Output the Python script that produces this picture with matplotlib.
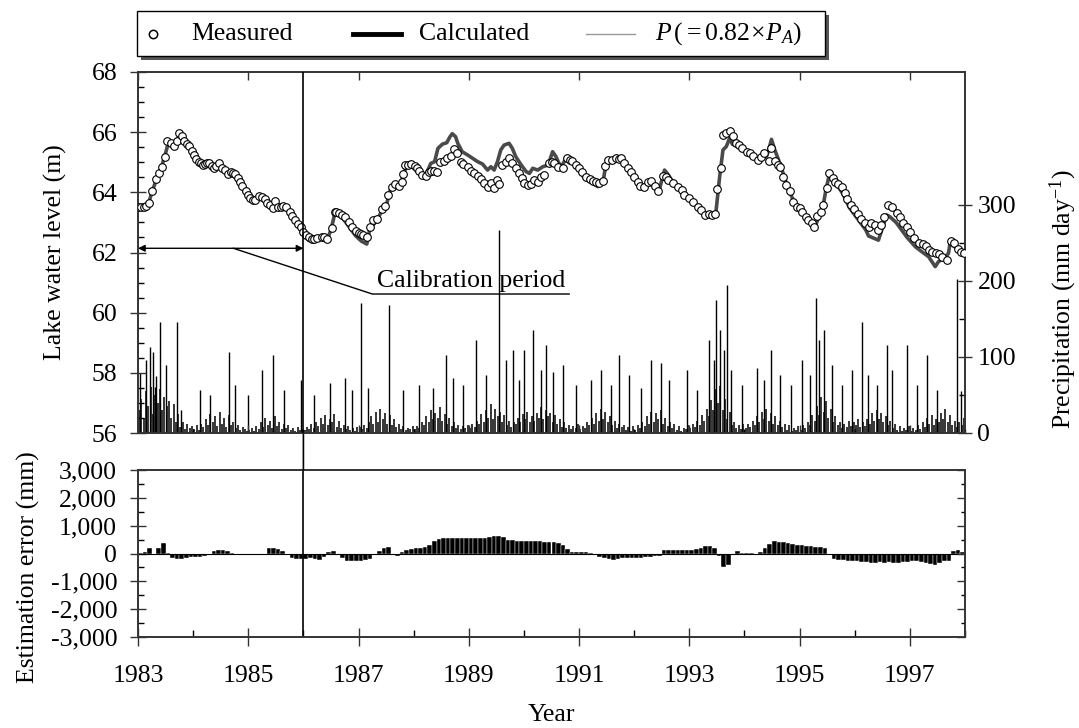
import numpy as np
import matplotlib
matplotlib.use("Agg")
import matplotlib.pyplot as plt
from matplotlib.lines import Line2D
from matplotlib.patches import ConnectionPatch, Rectangle
from matplotlib.ticker import FixedLocator, MultipleLocator, FuncFormatter

plt.rcParams['font.family'] = ['Liberation Serif', 'DejaVu Serif']
plt.rcParams['mathtext.fontset'] = 'custom'
plt.rcParams['mathtext.rm'] = 'Liberation Serif'
plt.rcParams['mathtext.it'] = 'Liberation Serif:italic'
plt.rcParams['font.size'] = 18.5

# gemessener Seespiegel (Jahr, m)
meas_t = [1983.00, 1983.05, 1983.10, 1983.15, 1983.20, 1983.25, 1983.32, 1983.38, 1983.43, 1983.49,
          1983.53, 1983.60, 1983.66, 1983.71, 1983.75, 1983.80, 1983.84, 1983.88, 1983.92, 1983.98,
          1984.02, 1984.06, 1984.11, 1984.14, 1984.18, 1984.22, 1984.25, 1984.29, 1984.34, 1984.38,
          1984.42, 1984.47, 1984.52, 1984.58, 1984.63, 1984.68, 1984.72, 1984.76, 1984.81, 1984.85,
          1984.88, 1984.95, 1985.00, 1985.04, 1985.08, 1985.13, 1985.19, 1985.25, 1985.30, 1985.34,
          1985.40, 1985.45, 1985.49, 1985.54, 1985.59, 1985.63, 1985.68, 1985.75, 1985.80, 1985.85,
          1985.90, 1985.95, 1986.00, 1986.05, 1986.10, 1986.15, 1986.19, 1986.25, 1986.33, 1986.38,
          1986.43, 1986.51, 1986.57, 1986.60, 1986.65, 1986.70, 1986.75, 1986.82, 1986.88, 1986.95,
          1987.00, 1987.05, 1987.09, 1987.16, 1987.20, 1987.27, 1987.34, 1987.42, 1987.48, 1987.54,
          1987.60, 1987.67, 1987.73, 1987.78, 1987.81, 1987.85, 1987.90, 1987.95, 1988.02, 1988.06,
          1988.10, 1988.16, 1988.22, 1988.28, 1988.32, 1988.36, 1988.42, 1988.48, 1988.55, 1988.61,
          1988.67, 1988.73, 1988.79, 1988.85, 1988.90, 1988.98, 1989.04, 1989.10, 1989.16, 1989.22,
          1989.28, 1989.34, 1989.40, 1989.45, 1989.52, 1989.55, 1989.61, 1989.67, 1989.73, 1989.79,
          1989.85, 1989.91, 1989.97, 1990.01, 1990.07, 1990.13, 1990.19, 1990.25, 1990.31, 1990.37,
          1990.46, 1990.50, 1990.54, 1990.61, 1990.70, 1990.78, 1990.83, 1990.88, 1990.94, 1991.00,
          1991.06, 1991.13, 1991.19, 1991.25, 1991.31, 1991.37, 1991.43, 1991.47, 1991.53, 1991.59,
          1991.67, 1991.72, 1991.76, 1991.82, 1991.88, 1991.94, 1992.00, 1992.06, 1992.11, 1992.18,
          1992.25, 1992.31, 1992.38, 1992.44, 1992.52, 1992.57, 1992.62, 1992.70, 1992.79, 1992.86,
          1992.91, 1992.99, 1993.07, 1993.15, 1993.21, 1993.29, 1993.35, 1993.41, 1993.46, 1993.51,
          1993.57, 1993.61, 1993.67, 1993.73, 1993.79, 1993.84, 1993.90, 1993.96, 1994.04, 1994.10,
          1994.16, 1994.24, 1994.30, 1994.36, 1994.44, 1994.49, 1994.55, 1994.61, 1994.65, 1994.70,
          1994.76, 1994.82, 1994.88, 1994.95, 1995.00, 1995.05, 1995.11, 1995.16, 1995.22, 1995.26,
          1995.31, 1995.39, 1995.43, 1995.49, 1995.54, 1995.61, 1995.65, 1995.70, 1995.76, 1995.82,
          1995.86, 1995.93, 1995.99, 1996.06, 1996.12, 1996.19, 1996.25, 1996.30, 1996.37, 1996.42,
          1996.47, 1996.53, 1996.61, 1996.68, 1996.76, 1996.82, 1996.88, 1996.94, 1997.00, 1997.07,
          1997.16, 1997.23, 1997.29, 1997.35, 1997.41, 1997.47, 1997.53, 1997.59, 1997.68, 1997.74,
          1997.80, 1997.87, 1997.93, 1997.99]
meas_level = [63.50, 63.50, 63.52, 63.55, 63.63, 64.05, 64.43, 64.63, 64.83, 65.19,
              65.72, 65.63, 65.54, 65.72, 65.98, 65.87, 65.72, 65.62, 65.54, 65.39,
              65.24, 65.10, 65.02, 64.96, 64.90, 64.93, 64.96, 64.99, 64.88, 64.80,
              64.86, 64.96, 64.82, 64.74, 64.60, 64.68, 64.65, 64.60, 64.47, 64.33,
              64.21, 64.06, 63.90, 63.80, 63.75, 63.75, 63.88, 63.86, 63.77, 63.63,
              63.57, 63.47, 63.70, 63.52, 63.52, 63.54, 63.50, 63.36, 63.21, 63.08,
              62.95, 62.84, 62.69, 62.58, 62.50, 62.46, 62.44, 62.47, 62.53, 62.50,
              62.44, 62.80, 63.36, 63.36, 63.30, 63.25, 63.17, 63.02, 62.86, 62.73,
              62.66, 62.62, 62.58, 62.53, 62.86, 63.08, 63.10, 63.43, 63.54, 63.91,
              64.19, 64.28, 64.21, 64.35, 64.61, 64.90, 64.92, 64.93, 64.86, 64.80,
              64.71, 64.58, 64.55, 64.69, 64.72, 64.71, 64.69, 65.02, 65.05, 65.13,
              65.20, 65.43, 65.32, 65.02, 64.94, 64.83, 64.72, 64.63, 64.55, 64.43,
              64.32, 64.19, 64.30, 64.15, 64.40, 64.28, 64.91, 65.02, 65.13, 64.98,
              64.80, 64.63, 64.47, 64.32, 64.25, 64.28, 64.41, 64.35, 64.50, 64.58,
              64.99, 65.00, 64.99, 64.83, 64.80, 65.13, 65.08, 65.05, 64.91, 64.80,
              64.66, 64.50, 64.43, 64.39, 64.35, 64.30, 64.39, 64.88, 65.08, 65.08,
              65.13, 65.10, 65.13, 64.97, 64.80, 64.66, 64.50, 64.35, 64.21, 64.17,
              64.35, 64.39, 64.21, 64.06, 64.55, 64.50, 64.41, 64.30, 64.19, 64.08,
              63.90, 63.80, 63.69, 63.52, 63.41, 63.25, 63.28, 63.25, 63.28, 64.11,
              64.80, 65.90, 65.98, 66.05, 65.86, 65.63, 65.58, 65.46, 65.35, 65.30,
              65.22, 65.07, 65.16, 65.30, 65.03, 65.46, 65.03, 64.91, 64.83, 64.50,
              64.24, 64.06, 63.69, 63.52, 63.47, 63.36, 63.17, 63.08, 62.99, 62.86,
              63.21, 63.36, 63.58, 64.13, 64.65, 64.46, 64.35, 64.28, 64.17, 63.97,
              63.77, 63.58, 63.43, 63.28, 63.13, 62.99, 62.86, 62.97, 62.93, 62.75,
              62.93, 63.19, 63.58, 63.52, 63.30, 63.17, 62.97, 62.84, 62.69, 62.47,
              62.33, 62.28, 62.22, 62.08, 62.03, 61.97, 61.95, 61.86, 61.75, 62.39,
              62.33, 62.10, 62.03, 62.00]

# berechneter Seespiegel (Jahr, m)
calc_t = [1983.00, 1983.10, 1983.18, 1983.25, 1983.33, 1983.42, 1983.50, 1983.55, 1983.62, 1983.68,
          1983.75, 1983.82, 1983.90, 1984.00, 1984.10, 1984.20, 1984.30, 1984.40, 1984.50, 1984.60,
          1984.70, 1984.80, 1984.90, 1985.00, 1985.08, 1985.18, 1985.25, 1985.35, 1985.45, 1985.50,
          1985.60, 1985.70, 1985.80, 1985.90, 1986.00, 1986.10, 1986.20, 1986.30, 1986.42, 1986.50,
          1986.57, 1986.65, 1986.75, 1986.85, 1986.95, 1987.05, 1987.15, 1987.20, 1987.30, 1987.40,
          1987.50, 1987.58, 1987.68, 1987.75, 1987.82, 1987.88, 1987.95, 1988.05, 1988.15, 1988.22,
          1988.31, 1988.38, 1988.44, 1988.52, 1988.60, 1988.66, 1988.70, 1988.76, 1988.80, 1988.88,
          1988.98, 1989.07, 1989.16, 1989.25, 1989.34, 1989.40, 1989.46, 1989.52, 1989.58, 1989.64,
          1989.73, 1989.79, 1989.85, 1989.95, 1990.04, 1990.10, 1990.16, 1990.25, 1990.34, 1990.44,
          1990.52, 1990.58, 1990.64, 1990.70, 1990.76, 1990.85, 1990.94, 1991.00, 1991.10, 1991.20,
          1991.34, 1991.43, 1991.48, 1991.55, 1991.65, 1991.75, 1991.85, 1991.95, 1992.05, 1992.15,
          1992.25, 1992.35, 1992.44, 1992.50, 1992.55, 1992.60, 1992.70, 1992.80, 1992.90, 1993.00,
          1993.10, 1993.20, 1993.30, 1993.40, 1993.48, 1993.55, 1993.61, 1993.67, 1993.73, 1993.78,
          1993.85, 1993.95, 1994.05, 1994.15, 1994.25, 1994.32, 1994.40, 1994.44, 1994.49, 1994.55,
          1994.62, 1994.70, 1994.80, 1994.90, 1995.00, 1995.10, 1995.16, 1995.28, 1995.35, 1995.42,
          1995.48, 1995.54, 1995.62, 1995.70, 1995.80, 1995.90, 1996.00, 1996.10, 1996.20, 1996.25,
          1996.35, 1996.43, 1996.50, 1996.58, 1996.63, 1996.75, 1996.85, 1996.95, 1997.10, 1997.20,
          1997.34, 1997.46, 1997.52, 1997.62, 1997.70, 1997.73, 1997.80, 1997.90, 1998.00]
calc_level = [63.45, 63.45, 63.55, 64.00, 64.40, 64.80, 65.30, 65.65, 65.55, 65.60,
              65.90, 65.85, 65.55, 65.30, 65.00, 64.88, 64.95, 64.80, 64.85, 64.68,
              64.60, 64.42, 64.10, 63.85, 63.70, 63.82, 63.78, 63.60, 63.50, 63.65,
              63.45, 63.42, 63.15, 62.90, 62.60, 62.40, 62.35, 62.45, 62.38, 62.75,
              63.30, 63.30, 63.05, 62.80, 62.55, 62.38, 62.28, 62.75, 63.00, 63.30,
              63.55, 64.10, 64.25, 64.20, 64.60, 64.95, 65.00, 64.85, 64.62, 64.58,
              64.96, 65.02, 65.46, 65.60, 65.65, 65.85, 65.95, 65.85, 65.63, 65.35,
              65.24, 65.13, 65.02, 64.94, 64.74, 64.85, 64.74, 65.02, 65.41, 65.57,
              65.63, 65.46, 65.19, 64.91, 64.69, 64.63, 64.80, 64.74, 64.85, 64.91,
              65.35, 65.19, 64.94, 64.91, 65.13, 65.13, 64.97, 64.75, 64.45, 64.35,
              64.19, 64.30, 64.85, 65.00, 65.05, 65.10, 64.85, 64.60, 64.30, 64.15,
              64.30, 64.20, 63.97, 64.40, 64.74, 64.63, 64.35, 64.15, 63.90, 63.75,
              63.60, 63.40, 63.25, 63.20, 63.30, 64.52, 65.41, 65.52, 65.80, 65.60,
              65.55, 65.42, 65.30, 65.18, 65.05, 65.10, 65.20, 65.41, 65.76, 65.41,
              65.07, 64.64, 64.08, 63.69, 63.45, 63.20, 63.05, 62.85, 63.20, 63.50,
              64.10, 64.60, 64.35, 64.20, 63.90, 63.50, 63.25, 63.00, 62.75, 62.55,
              62.47, 62.41, 62.80, 63.25, 63.20, 63.00, 62.75, 62.50, 62.19, 62.05,
              61.86, 61.53, 61.70, 61.80, 61.97, 62.32, 62.21, 62.05, 62.00]

# Niederschlag: halbmonatliche Grundwerte je Jahr (mm/Tag)
rain_base = [
    [30, 45, 20, 55, 35, 60, 25, 50, 40, 58, 30, 48, 35, 42, 20, 38, 15, 25, 8, 14, 5, 12, 6, 9],
    [5, 10, 4, 12, 8, 18, 10, 25, 14, 22, 9, 28, 12, 20, 8, 24, 10, 15, 6, 10, 4, 8, 5, 3],
    [4, 7, 3, 9, 5, 14, 8, 20, 10, 16, 6, 22, 9, 15, 5, 12, 7, 10, 4, 6, 3, 8, 4, 5],
    [4, 8, 5, 12, 7, 15, 9, 20, 12, 24, 10, 18, 14, 25, 8, 16, 6, 10, 5, 9, 4, 7, 3, 8],
    [8, 5, 10, 6, 14, 22, 12, 28, 15, 32, 18, 26, 12, 24, 10, 18, 8, 12, 5, 9, 4, 7, 5, 9],
    [5, 9, 6, 14, 10, 22, 14, 30, 18, 26, 20, 34, 16, 25, 12, 20, 9, 14, 6, 11, 5, 9, 7, 10],
    [6, 12, 8, 16, 12, 25, 15, 30, 20, 38, 18, 32, 22, 28, 14, 24, 10, 16, 8, 14, 12, 20, 15, 25],
    [18, 28, 14, 22, 16, 26, 20, 34, 18, 30, 22, 26, 15, 24, 12, 18, 8, 14, 6, 11, 5, 9, 6, 12],
    [5, 9, 6, 14, 10, 20, 12, 26, 16, 32, 18, 28, 14, 22, 10, 16, 7, 12, 8, 10, 4, 8, 3, 9],
    [4, 10, 6, 14, 9, 22, 12, 28, 14, 26, 18, 30, 12, 20, 9, 14, 6, 12, 4, 9, 3, 7, 5, 10],
    [6, 12, 8, 16, 10, 24, 16, 32, 22, 44, 30, 58, 40, 62, 30, 45, 18, 28, 10, 15, 6, 10, 5, 12],
    [6, 12, 8, 16, 10, 22, 14, 28, 18, 32, 16, 26, 12, 22, 10, 16, 8, 12, 4, 10, 3, 7, 4, 9],
    [4, 10, 6, 14, 10, 24, 16, 36, 24, 48, 28, 42, 20, 32, 14, 22, 10, 14, 6, 12, 8, 16, 9, 14],
    [10, 18, 8, 14, 9, 18, 12, 26, 16, 30, 18, 26, 14, 22, 10, 16, 7, 12, 4, 9, 3, 7, 4, 9],
    [3, 7, 4, 10, 5, 14, 8, 20, 12, 24, 10, 18, 14, 26, 18, 32, 15, 24, 10, 16, 8, 14, 10, 20],
]

# einzelne Starkregen-Tage (Jahr, mm/Tag)
storm_t = [1983.04, 1983.15, 1983.22, 1983.27, 1983.30, 1983.33, 1983.40, 1983.51, 1983.71, 1983.78,
           1984.13, 1984.31, 1984.65, 1984.76, 1985.00, 1985.25, 1985.44, 1985.65, 1985.95, 1986.20,
           1986.49, 1986.76, 1986.89, 1987.04, 1987.18, 1987.55, 1987.80, 1988.09, 1988.35, 1988.58,
           1988.71, 1988.89, 1989.13, 1989.31, 1989.55, 1989.67, 1989.80, 1989.91, 1990.00, 1990.16,
           1990.31, 1990.40, 1990.53, 1990.71, 1990.95, 1991.22, 1991.40, 1991.58, 1991.73, 1991.91,
           1992.13, 1992.31, 1992.49, 1992.64, 1992.95, 1993.13, 1993.35, 1993.44, 1993.49, 1993.55,
           1993.62, 1993.69, 1993.76, 1993.95, 1994.22, 1994.35, 1994.49, 1994.64, 1994.85, 1995.04,
           1995.18, 1995.29, 1995.36, 1995.44, 1995.58, 1995.76, 1995.95, 1996.13, 1996.24, 1996.40,
           1996.58, 1996.67, 1996.95, 1997.13, 1997.31, 1997.49, 1997.85, 1997.92]
storm_mm = [79, 96, 113, 107, 60, 75, 146, 90, 146, 30,
            57, 50, 107, 63, 50, 83, 103, 57, 70, 50,
            66, 72, 57, 171, 59, 168, 57, 63, 59, 103,
            72, 63, 122, 76, 267, 96, 109, 70, 109, 135,
            83, 116, 80, 89, 63, 70, 83, 63, 103, 76,
            59, 96, 92, 70, 83, 57, 122, 96, 175, 135,
            109, 195, 83, 63, 86, 70, 109, 76, 63, 96,
            76, 178, 122, 135, 89, 63, 83, 146, 76, 63,
            116, 83, 116, 63, 103, 57, 203, 55]

# Schätzfehler, Monatswerte (mm)
err_mm = [
    30, 50, 180, -40, 180, 380, 20, -150, -210, -190, -150, -140,
    -130, -110, -100, -60, 95, 120, 130, 100, 20, -50, -50, -55,
    -60, -60, -40, -20, 190, 215, 170, 100, -60, -170, -190, -205,
    -200, -170, -200, -230, -110, 60, 75, -30, -170, -265, -270, -270,
    -265, -250, -200, -40, 80, 180, 240, -30, -100, 60, 130, 170,
    190, 200, 230, 300, 440, 510, 570, 560, 545, 545, 550, 550,
    550, 555, 560, 570, 600, 630, 625, 600, 500, 470, 460, 455,
    455, 455, 455, 440, 425, 410, 400, 360, 290, 160, 50, 60,
    70, 50, 35, -60, -110, -145, -200, -240, -200, -150, -145, -145,
    -145, -145, -140, -125, -100, -85, 120, 120, 120, 120, 120, 120,
    125, 170, 215, 260, 270, 180, -100, -500, -420, -50, 80, 35,
    30, 10, 0, 60, 190, 330, 450, 430, 405, 360, 330, 300,
    290, 270, 260, 240, 220, 200, -10, -180, -245, -250, -260, -265,
    -280, -295, -310, -325, -325, -320, -325, -320, -325, -325, -320, -310,
    -280, -270, -290, -340, -380, -410, -330, -265, -260, 100, 120, 40,
]

year_start = 1983
year_end = 1998
calib_end = 1986

base_t = year_start + (np.arange(24 * len(rain_base)) + 0.5) / 24
base_mm = np.concatenate(rain_base)
err_t = year_start + (np.arange(len(err_mm)) + 0.5) / 12

spine_col = '#333333'
W, H = 1079, 728


def fx(px):
    return px / W


def fy(py):
    return 1 - py / H


fig = plt.figure(figsize=(W / 100, H / 100), dpi=100)
ax1 = fig.add_axes([fx(138), fy(433), fx(965) - fx(138), fy(72) - fy(433)])
ax2 = ax1.twinx()
ax3 = fig.add_axes([fx(138), fy(637), fx(965) - fx(138), fy(470) - fy(637)])
ax3r = ax3.twinx()

# Niederschlag (rechte Achse)
ax2.vlines(base_t, 0, base_mm, color='black', lw=1.1)
ax2.vlines(storm_t, 0, storm_mm, color='black', lw=1.0)
ax2.set_ylim(0, 475)
ax2.yaxis.set_major_locator(FixedLocator([0, 100, 200, 300]))
ax2.yaxis.set_minor_locator(FixedLocator([50, 150, 250]))
ax2.tick_params(axis='y', which='major', direction='inout', length=10, width=1, pad=4)
ax2.tick_params(axis='y', which='minor', direction='in', length=4, width=1)
ax2.set_ylabel('Precipitation (mm day$^{-1}$)')
ax2.yaxis.set_label_coords(1.100, 0.37)

# Seespiegel (linke Achse)
ax1.set_zorder(ax2.get_zorder() + 1)
ax1.patch.set_visible(False)
ax1.plot(calc_t, calc_level, color='#4a4a4a', lw=2.6, zorder=3)
ax1.plot(meas_t, meas_level, 'o', ms=5.5, mfc='white', mec='black', mew=0.8, zorder=4)
ax1.set_xlim(year_start, year_end)
ax1.set_ylim(56, 68)
ax1.yaxis.set_major_locator(MultipleLocator(2))
ax1.yaxis.set_minor_locator(MultipleLocator(0.5))
ax1.tick_params(axis='y', which='major', direction='inout', length=12, width=1, pad=9)
ax1.tick_params(axis='y', which='minor', direction='in', length=4, width=1)
ax1.xaxis.set_major_locator(FixedLocator(np.arange(year_start, year_end, 2)))
ax1.xaxis.set_minor_locator(FixedLocator(np.arange(year_start, year_end + 1)))
ax1.tick_params(axis='x', which='both', direction='in', top=True, bottom=True, labelbottom=False)
ax1.tick_params(axis='x', which='major', length=6, width=1)
ax1.tick_params(axis='x', which='minor', length=3, width=1, top=False)
ax1.set_ylabel('Lake water level (m)')
ax1.yaxis.set_label_coords(-0.086, 0.5)

# Kalibrierungszeitraum
ax1.axvline(calib_end, color='black', lw=1.2, zorder=5)
ax1.annotate('', xy=(year_start, 62.14), xytext=(calib_end, 62.14),
             arrowprops=dict(arrowstyle='<|-|>', lw=1, color='black', shrinkA=0, shrinkB=0,
                             mutation_scale=10))
ax1.plot([1984.73, 1987.25, 1990.82], [62.14, 60.62, 60.62], color='black', lw=1)
ax1.text(1989.05, 60.68, 'Calibration period', ha='center', va='bottom')

# Schätzfehler
ax3.bar(err_t, err_mm, width=1 / 12, color='black', edgecolor='white', linewidth=0.3)
ax3.axhline(0, color='black', lw=0.8)
ax3.axvline(calib_end, color='black', lw=1.2)
ax3.set_xlim(year_start, year_end)
ax3.set_ylim(-3000, 3000)
ax3.yaxis.set_major_locator(MultipleLocator(1000))
ax3.yaxis.set_minor_locator(MultipleLocator(500))
ax3.yaxis.set_major_formatter(FuncFormatter(lambda v, p: f"{v:,.0f}"))
ax3.tick_params(axis='y', which='major', direction='inout', length=12, width=1, pad=9)
ax3.tick_params(axis='y', which='minor', direction='in', length=4, width=1)
ax3.xaxis.set_major_locator(FixedLocator(np.arange(year_start, year_end, 2)))
ax3.xaxis.set_minor_locator(FixedLocator(np.arange(year_start, year_end + 1)))
ax3.xaxis.set_major_formatter(FuncFormatter(lambda v, p: f"{int(round(v))}"))
ax3.tick_params(axis='x', which='major', direction='inout', length=13, width=1, pad=14)
ax3.tick_params(axis='x', which='minor', direction='in', length=5, width=1)
ax3.set_xlabel('Year', labelpad=12)
ax3.set_ylabel('Estimation error (mm)')
ax3.yaxis.set_label_coords(-0.1185, 0.42)

ax3r.set_ylim(-3000, 3000)
ax3r.yaxis.set_major_locator(MultipleLocator(1000))
ax3r.yaxis.set_minor_locator(MultipleLocator(500))
ax3r.tick_params(axis='y', which='major', direction='in', length=6, width=1, labelright=False)
ax3r.tick_params(axis='y', which='minor', direction='in', length=3, width=1)

# Verbindungslinie zwischen den Panels
con = ConnectionPatch(xyA=(calib_end, 56), coordsA=ax1.transData,
                      xyB=(calib_end, 3000), coordsB=ax3.transData,
                      color='black', lw=1.2)
fig.add_artist(con)

for ax in (ax1, ax2, ax3, ax3r):
    for sp in ax.spines.values():
        sp.set_color(spine_col)
        sp.set_linewidth(1.2)
    ax.tick_params(colors=spine_col, labelcolor='black')

# Legende oberhalb der Achsen, mit Schatten
box_l, box_r, box_t, box_b = 137, 825, 11, 56
fig.add_artist(Rectangle((fx(box_l + 4), fy(box_b + 4)), fx(box_r) - fx(box_l), fy(box_t) - fy(box_b),
                         transform=fig.transFigure, facecolor='#555555', edgecolor='none', zorder=1))
fig.add_artist(Rectangle((fx(box_l), fy(box_b)), fx(box_r) - fx(box_l), fy(box_t) - fy(box_b),
                         transform=fig.transFigure, facecolor='white', edgecolor='black', lw=1.0, zorder=2))
ly = fy(34)
fig.add_artist(Line2D([fx(153)], [ly], marker='o', ls='none', ms=6, mfc='white', mec='black', mew=1.1,
                      transform=fig.transFigure, zorder=3))
fig.text(fx(191), ly, 'Measured', ha='left', va='center', zorder=3)
fig.add_artist(Line2D([fx(353), fx(401)], [ly, ly], color='black', lw=3.5,
                      transform=fig.transFigure, zorder=3))
fig.text(fx(419), ly, 'Calculated', ha='left', va='center', zorder=3)
fig.add_artist(Line2D([fx(586), fx(635)], [ly, ly], color='#999999', lw=1,
                      transform=fig.transFigure, zorder=3))
fig.text(fx(655), ly, r'$P\,(= 0.82\!\times\! P_A)$', ha='left', va='center', zorder=3)

fig.savefig('out.png', dpi=100)
